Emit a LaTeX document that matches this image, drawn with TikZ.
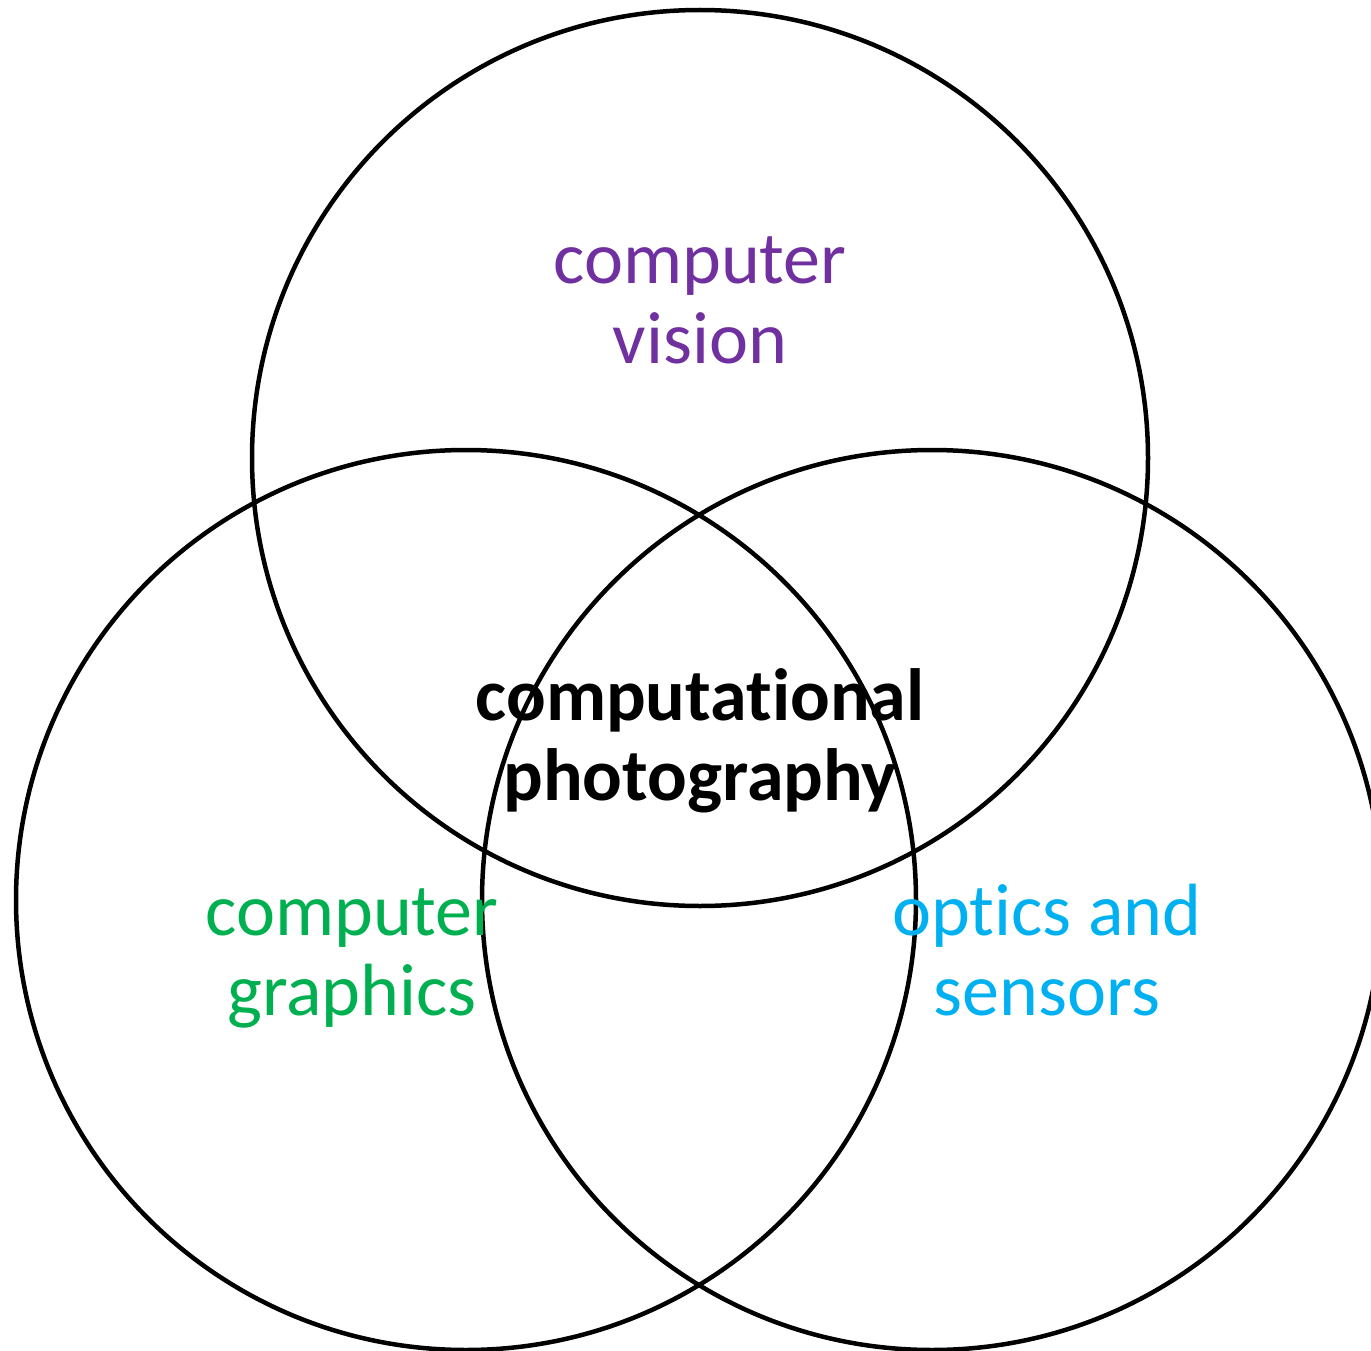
\documentclass[tikz,border=0pt]{standalone}
\usepackage{fontspec}
\setmainfont{Carlito}[RawFeature=-liga]
\definecolor{cvpurple}{HTML}{7030A0}
\definecolor{cggreen}{HTML}{00B050}
\definecolor{oscyan}{HTML}{00B0F0}
\begin{document}
\begin{tikzpicture}[x=1pt,y=-1pt,
  ring/.style={draw=black,line width=4.5pt},
  field/.style={align=center,font=\fontsize{74}{80}\selectfont,inner sep=0pt},
  core/.style={align=center,font=\fontsize{74}{80}\selectfont\bfseries,inner sep=0pt}]
  \useasboundingbox (0,0) rectangle (1371,1351);
  % three overlapping fields
  \coordinate (cTop) at (700,458);
  \coordinate (cLeft) at (466,900);
  \coordinate (cRight) at (932,900);
  \draw[ring] (cTop) circle[radius=448];
  \draw[ring] (cLeft) circle[radius=450];
  \draw[ring] (cRight) circle[radius=450];
  % labels (anchored at the baseline of the second line)
  \node[field,text=cvpurple,anchor=base] (vision) at (700,363) {computer\\vision};
  \node[field,text=cggreen,anchor=base] (graphics) at (352,1015) {computer\\graphics};
  \node[field,text=oscyan,anchor=base] (optics) at (1047,1015) {optics and\\sensors};
  \node[core,anchor=base] (photo) at (700,800) {computational\\photography};
\end{tikzpicture}
\end{document}
